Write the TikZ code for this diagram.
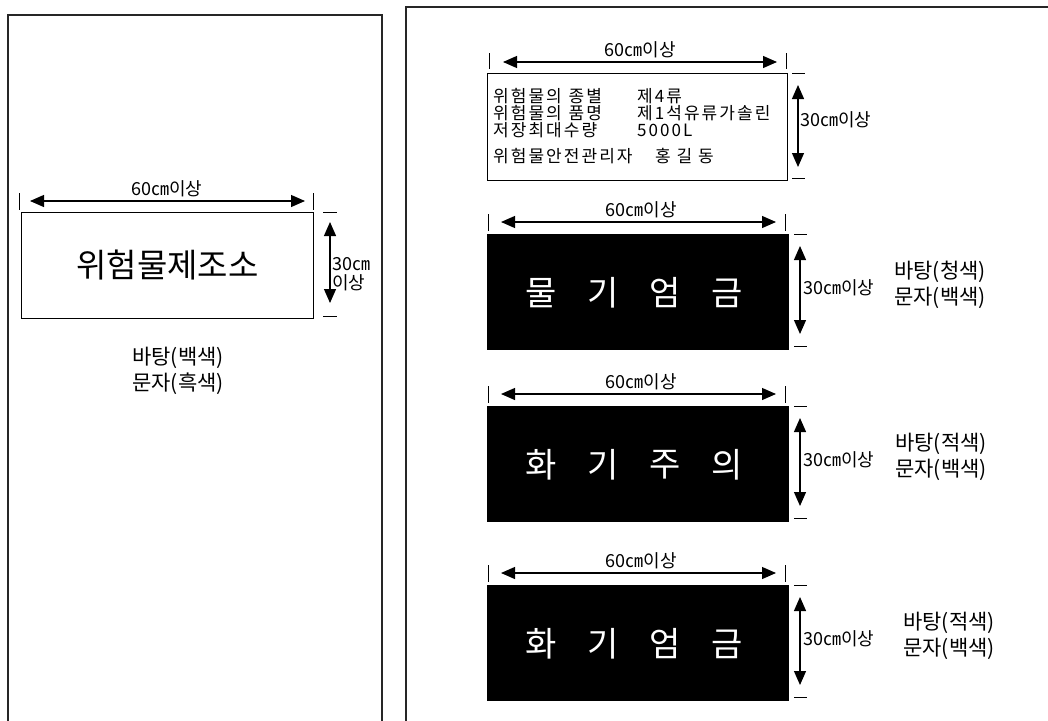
\documentclass[tikz,border=0pt]{standalone}
\usepackage{fontspec}
\setmainfont{Noto Sans CJK KR}
\newfontfamily\infofont[LetterSpace=12]{Noto Sans CJK KR}
\usetikzlibrary{arrows.meta, positioning}

\tikzset{
	panel/.style={line width=1.6pt, black!85},
	plate/.style={draw, line width=0.9pt, anchor=north west, inner sep=0pt},
	dimline/.style={line width=1.2pt, {Triangle[length=14pt,width=12pt]}-{Triangle[length=14pt,width=12pt]}},
	tick/.style={line width=0.9pt},
	dimtext/.style={font=\fontsize{18}{19}\selectfont, inner sep=0pt},
	notetext/.style={font=\fontsize{21}{21}\selectfont, inner sep=0pt},
	infotext/.style={font=\infofont\fontsize{17}{17}\selectfont, inner sep=0pt, anchor=west},
	signch/.style={font=\fontsize{34}{34}\selectfont, text=white, inner sep=0pt},
}

\begin{document}
\begin{tikzpicture}[x=1pt,y=-1pt]
		\useasboundingbox (0,0) rectangle (1048,720);
		
		% Panels
		\draw[panel] (8,725) -- (8,15) -- (382,15) -- (382,725);
		\draw[panel] (406,725) -- (406,7) -- (1055,7);
		
		% Left plate
		\node[plate, minimum width=292pt, minimum height=106pt, font=\fontsize{33}{33}\selectfont] (plate0) at (21,212) {위험물제조소};
		\draw[tick] (19,193) -- (19,210);
		\draw[tick] (313,193) -- (313,210);
		\coordinate (hl0) at (30,201);
		\coordinate (hr0) at (305,201);
		\draw[dimline] (hl0) -- (hr0);
		\node[dimtext] (w0) at (167,189) {60㎝이상};
		\draw[tick] (323,212) -- (337,212);
		\draw[tick] (323,316) -- (337,316);
		\coordinate (vt0) at (330,222);
		\coordinate (vb0) at (330,303);
		\draw[dimline] (vt0) -- (vb0);
		\node[dimtext, anchor=west, align=left] (h0) at (332,274) {30㎝\\이상};
		\node[notetext] (bg0) at (178,358) {바탕(백색)};
		\node[notetext] (fg0) at (178,384) {문자(흑색)};
		
		% Info plate
		\node[plate, minimum width=300pt, minimum height=107pt] (plate1) at (487,73) {};
		\node[infotext] (r1a) at (493,96) {위험물의\hspace{0.4em}종별};
		\node[infotext] (r1b) at (637,96) {제4류};
		\node[infotext] (r2a) at (493,113) {위험물의\hspace{0.4em}품명};
		\node[infotext] (r2b) at (637,113) {제1석유류가솔린};
		\node[infotext] (r3a) at (493,130) {저장최대수량};
		\node[infotext] (r3b) at (637,130) {5000L};
		\node[infotext] (r4a) at (493,156) {위험물안전관리자};
		\node[infotext] (r4b) at (655,156) {홍 길 동};
		\draw[tick] (489,53) -- (489,69);
		\draw[tick] (786,53) -- (786,69);
		\coordinate (hl1) at (503,62);
		\coordinate (hr1) at (777,62);
		\draw[dimline] (hl1) -- (hr1);
		\node[dimtext] (w1) at (640,50) {60㎝이상};
		\draw[tick] (792,73) -- (805,73);
		\draw[tick] (792,178) -- (805,178);
		\coordinate (vt1) at (798,85);
		\coordinate (vb1) at (798,167);
		\draw[dimline] (vt1) -- (vb1);
		\node[dimtext, anchor=west] (h1) at (800,120) {30㎝이상};
		
		% Warning plates
		\foreach \ty/\a/\b/\c/\d/\bg/\cx in {234/물/기/엄/금/청색/940, 406/화/기/주/의/적색/941, 585/화/기/엄/금/적색/949}{
			\node[plate, fill=black, minimum width=301pt, minimum height=115pt] (sign\ty) at (487,\ty) {};
			\foreach \ch [count=\i] in {\a,\b,\c,\d}
				\node[signch] (ch\ty-\i) at ({541+62*(\i-1)},\ty+59) {\ch};
			\draw[tick] (488,\ty-20) -- (488,\ty-3);
			\draw[tick] (785,\ty-20) -- (785,\ty-3);
			\coordinate (hl\ty) at (501,\ty-12);
			\coordinate (hr\ty) at (776,\ty-12);
			\draw[dimline] (hl\ty) -- (hr\ty);
			\node[dimtext] (w\ty) at (641,\ty-24) {60㎝이상};
			\draw[tick] (794,\ty) -- (807,\ty);
			\draw[tick] (794,\ty+112) -- (807,\ty+112);
			\coordinate (vt\ty) at (800,\ty+12);
			\coordinate (vb\ty) at (800,\ty+100);
			\draw[dimline] (vt\ty) -- (vb\ty);
			\node[dimtext, anchor=west] (h\ty) at (803,\ty+54) {30㎝이상};
			\node[notetext] (bg\ty) at (\cx,\ty+38) {바탕(\bg)};
			\node[notetext] (fg\ty) at (\cx,\ty+64) {문자(백색)};
		}
	\end{tikzpicture}
\end{document}
